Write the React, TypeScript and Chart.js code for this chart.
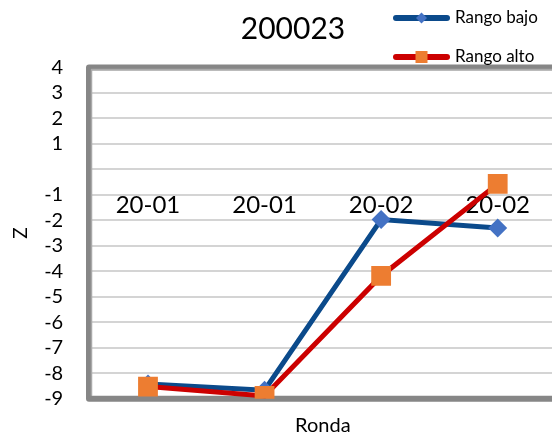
import { useEffect, useRef } from 'react';
import { Chart, registerables } from 'chart.js';

Chart.register(...registerables);

// ---- data ----
const categories = ['20-01', '20-01', '20-02', '20-02'];
const seriesNames = ['Rango bajo', 'Rango alto'];
const rangoBajo = [-8.42, -8.66, -1.97, -2.3];
const rangoAlto = [-8.52, -8.89, -4.18, -0.57];
const chartTitle = '200023';
const yAxisTitle = 'Z';
const xAxisTitle = 'Ronda';
const yMin = -9;
const yMax = 4;
const yStep = 1;
const hiddenTickValue = 0;

// ---- style ----
const FONT = 'Lato, "Open Sans", sans-serif';
const BLUE_LINE = '#0B4A8B';
const BLUE_MARK = '#4472C4';
const RED_LINE = '#CC0000';
const ORANGE_MARK = '#ED7D31';
const CATEGORY_LABEL_AT = -1.4;

const titlePlugin = {
  id: 'titlePlugin',
  afterDraw(chart: any) {
    const { ctx } = chart;
    ctx.save();
    ctx.font = `30px ${FONT}`;
    ctx.fillStyle = '#000';
    ctx.textAlign = 'center';
    ctx.textBaseline = 'middle';
    ctx.fillText(chartTitle, chart.width / 2, 29);
    ctx.restore();
  },
};

const framePlugin = {
  id: 'framePlugin',
  beforeDatasetsDraw(chart: any) {
    const { ctx, chartArea: a, scales } = chart;
    ctx.save();
    ctx.font = `24px ${FONT}`;
    ctx.fillStyle = '#000';
    ctx.textAlign = 'center';
    ctx.textBaseline = 'middle';
    const ly = scales.y.getPixelForValue(CATEGORY_LABEL_AT);
    categories.forEach((c, i) => ctx.fillText(c, scales.x.getPixelForValue(i), ly));
    ctx.lineJoin = 'round';
    ctx.strokeStyle = '#868686';
    ctx.lineWidth = 6;
    ctx.strokeRect(a.left - 0.7, a.top, a.right - a.left + 20, a.bottom - a.top);
    ctx.strokeStyle = '#a9a9a9';
    ctx.lineWidth = 1.5;
    ctx.beginPath();
    ctx.moveTo(a.left + 1.8, a.bottom - 3);
    ctx.lineTo(a.left + 1.8, a.top + 2.2);
    ctx.lineTo(a.right + 20, a.top + 2.2);
    ctx.stroke();
    ctx.restore();
  },
};

const legendPlugin = {
  id: 'legendPlugin',
  afterDraw(chart: any) {
    const { ctx } = chart;
    const items = [
      { text: seriesNames[0], line: BLUE_LINE, mark: BLUE_MARK, shape: 'diamond', y: 18 },
      { text: seriesNames[1], line: RED_LINE, mark: ORANGE_MARK, shape: 'square', y: 57 },
    ];
    const x0 = 393;
    const x1 = 450;
    const xm = (x0 + x1) / 2;
    ctx.save();
    items.forEach((it) => {
      ctx.strokeStyle = it.line;
      ctx.lineWidth = 6;
      ctx.lineCap = 'round';
      ctx.beginPath();
      ctx.moveTo(x0 + 3, it.y);
      ctx.lineTo(x1 - 3, it.y);
      ctx.stroke();
      ctx.fillStyle = it.mark;
      if (it.shape === 'diamond') {
        const r = 5.5;
        ctx.beginPath();
        ctx.moveTo(xm, it.y - r);
        ctx.lineTo(xm + r, it.y);
        ctx.lineTo(xm, it.y + r);
        ctx.lineTo(xm - r, it.y);
        ctx.closePath();
        ctx.fill();
      } else {
        ctx.fillRect(xm - 6, it.y - 6, 12, 12);
      }
      ctx.fillStyle = '#000';
      ctx.font = `17px ${FONT}`;
      ctx.textAlign = 'left';
      ctx.textBaseline = 'middle';
      ctx.fillText(it.text, x1 + 5, it.y);
    });
    ctx.restore();
  },
};

export default function App() {
  const ref = useRef<HTMLCanvasElement>(null);

  useEffect(() => {
    if (!ref.current) return;
    const chart = new Chart(ref.current, {
      type: 'line',
      data: {
        labels: categories,
        datasets: [
          {
            label: seriesNames[0],
            data: rangoBajo,
            borderColor: BLUE_LINE,
            borderWidth: 5,
            pointStyle: 'rectRot',
            pointRadius: 9.5,
            pointBackgroundColor: BLUE_MARK,
            pointBorderColor: BLUE_MARK,
            pointBorderWidth: 0,
            tension: 0,
            fill: false,
            order: 1,
          },
          {
            label: seriesNames[1],
            data: rangoAlto,
            borderColor: RED_LINE,
            borderWidth: 5,
            pointStyle: 'rect',
            pointRadius: 14,
            pointBackgroundColor: ORANGE_MARK,
            pointBorderColor: ORANGE_MARK,
            pointBorderWidth: 0,
            tension: 0,
            fill: false,
            order: 0,
          },
        ],
      },
      options: {
        responsive: false,
        animation: false,
        devicePixelRatio: 1,
        layout: { padding: { left: 0, right: 30, top: 67.4, bottom: 0 } },
        plugins: {
          legend: { display: false },
          tooltip: { enabled: false },
          title: { display: false },
        },
        scales: {
          x: {
            type: 'category',
            offset: true,
            grid: { display: false, drawTicks: false },
            border: { display: false },
            ticks: { display: false },
            title: {
              display: true,
              text: xAxisTitle,
              color: '#000',
              font: { family: FONT, size: 20 },
              padding: { top: 15, bottom: 0 },
            },
            afterFit: (s: any) => {
              s.height = 39.2;
            },
          },
          y: {
            min: yMin,
            max: yMax,
            grid: { color: '#d4d4d4', lineWidth: 2, drawTicks: false },
            border: { display: false },
            ticks: {
              stepSize: yStep,
              autoSkip: false,
              padding: 26.5,
              color: '#000',
              font: { family: FONT, size: 20 },
              callback: (v: any) => (Number(v) === hiddenTickValue ? '' : String(v)),
            },
            title: {
              display: true,
              text: yAxisTitle,
              color: '#000',
              font: { family: FONT, size: 19 },
              padding: { top: 9.5, bottom: 0 },
            },
            afterFit: (s: any) => {
              s.width = 89.7;
            },
          },
        },
      },
      plugins: [framePlugin, legendPlugin, titlePlugin],
    } as any);
    return () => chart.destroy();
  }, []);

  return (
    <div style={{ position: 'fixed', left: 0, top: 0, width: 552, height: 438, overflow: 'hidden', background: '#fff' }}>
      <canvas ref={ref} width={586} height={438} style={{ display: 'block', width: 586, height: 438 }} />
    </div>
  );
}
